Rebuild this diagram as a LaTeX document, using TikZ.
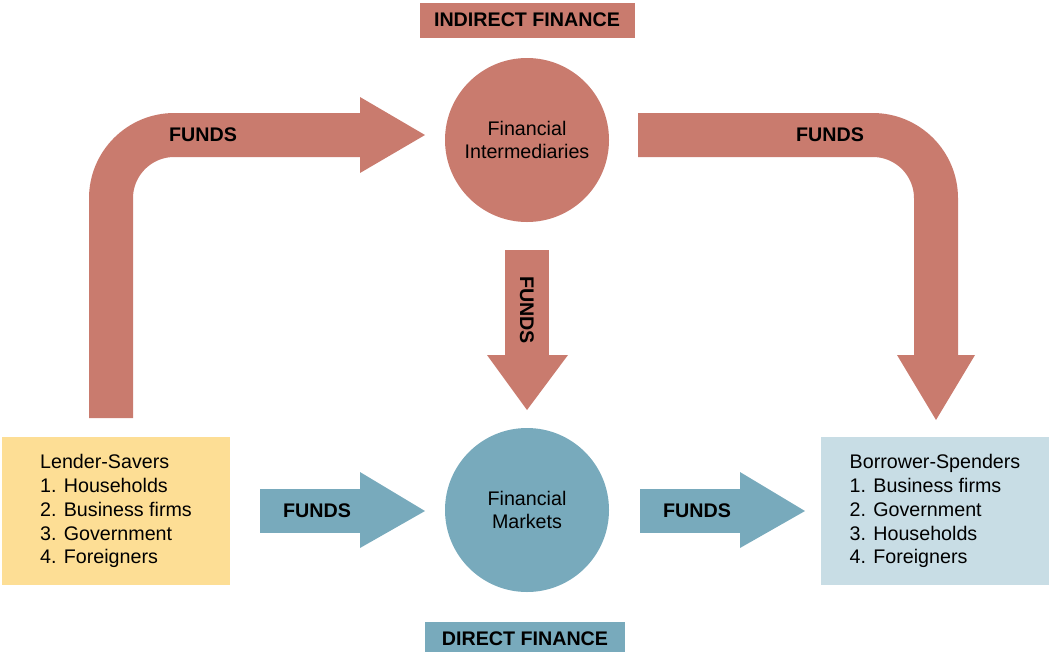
\documentclass[tikz,border=0pt]{standalone}
\usepackage{fontspec}
\setmainfont{Liberation Sans}
\definecolor{salmon}{HTML}{C97B6E}
\definecolor{steel}{HTML}{78AABC}
\definecolor{sand}{HTML}{FDDE95}
\definecolor{ice}{HTML}{C8DDE5}
\tikzset{
  txt/.style={font=\fontsize{14}{17}\selectfont},
  lbl/.style={font=\fontsize{14}{17}\selectfont\bfseries},
  circ/.style={circle,minimum size=164*0.25mm,inner sep=0pt,align=center,txt},
  party/.style={minimum width=228*0.25mm,minimum height=148*0.25mm,align=left,txt},
  shaft/.style={line width=44*0.25mm},
}
\begin{document}
\begin{tikzpicture}[x=0.25mm,y=-0.25mm]
\useasboundingbox (0,0) rectangle (1050,652);

\fill[salmon] (420,3) rectangle (635,38);
\node[lbl] at (527,20) {INDIRECT FINANCE};
\fill[steel] (425,622) rectangle (625,652);
\node[lbl] at (525,639) {DIRECT FINANCE};

\node[circ,fill=salmon] (fi) at (527,140) {Financial\\Intermediaries};
\node[circ,fill=steel] (fm) at (527,510) {Financial\\Markets};
\node[party,fill=sand] (ls) at (116,511) {Lender-Savers\\1. Households\\2. Business firms\\3. Government\\4. Foreigners};
\node[party,fill=ice] (bs) at (935,511) {Borrower-Spenders\\1. Business firms\\2. Government\\3. Households\\4. Foreigners};

% indirect route
\draw[shaft,salmon,rounded corners=45] (111,418) -- (111,135) -- (362,135);
\fill[salmon] (360,97) -- (425,135) -- (360,173) -- cycle;
\draw[shaft,salmon,rounded corners=45] (638,135) -- (936,135) -- (936,357);
\fill[salmon] (897,355) -- (936,420) -- (975,355) -- cycle;
\draw[shaft,salmon] (527,250) -- (527,357);
\fill[salmon] (487,355) -- (527,410) -- (568,355) -- cycle;
\node[lbl] at (203,135) {FUNDS};
\node[lbl] at (830,135) {FUNDS};
\node[lbl,rotate=-90] at (527,310) {FUNDS};

% direct route
\draw[shaft,steel] (260,511) -- (362,511);
\fill[steel] (360,472) -- (425,511) -- (360,548) -- cycle;
\draw[shaft,steel] (640,511) -- (742,511);
\fill[steel] (740,472) -- (805,511) -- (740,548) -- cycle;
\node[lbl] at (317,511) {FUNDS};
\node[lbl] at (697,511) {FUNDS};
\end{tikzpicture}
\end{document}
